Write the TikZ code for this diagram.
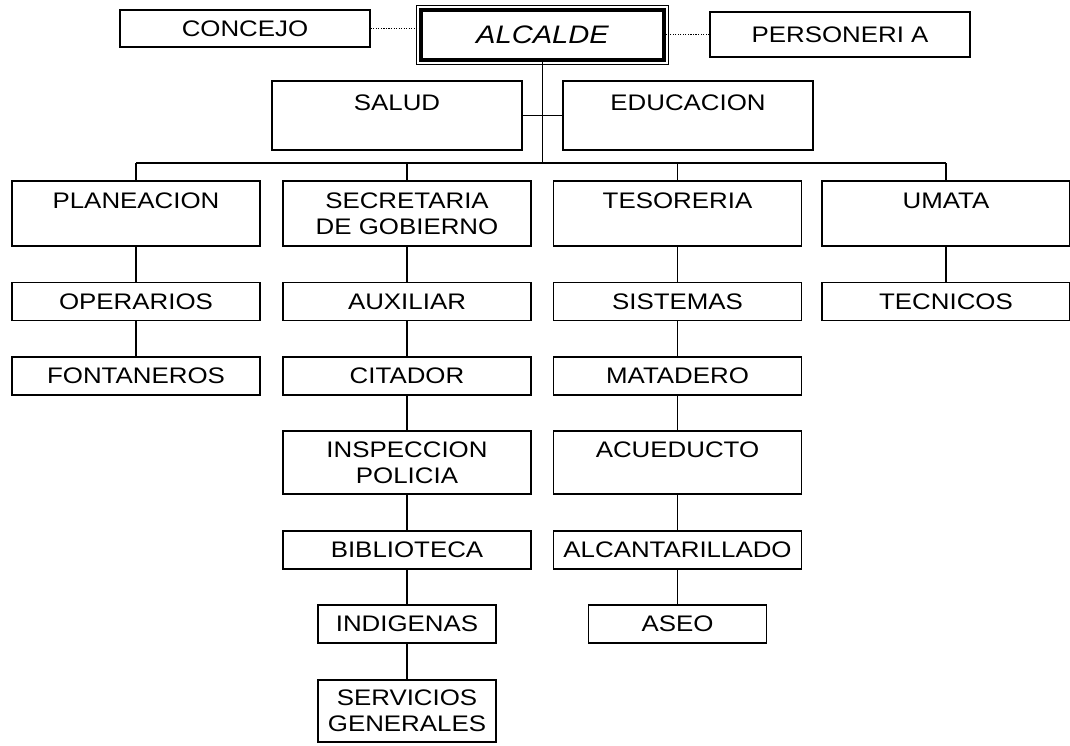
\documentclass[tikz,border=0pt]{standalone}
\usepackage{fontspec}
\setmainfont[FakeStretch=1.15]{Liberation Sans}

\begin{document}
\begin{tikzpicture}[x=0.025cm, y=-0.025cm,
    every node/.style={font=\fontsize{16}{18.5}\selectfont, align=center, inner sep=1pt},
    unit/.style={draw, line width=1pt, minimum width=6.2cm, minimum height=0.95cm},
    tall/.style={unit, minimum height=1.625cm},
    narrow/.style={unit, minimum width=4.45cm},
    link/.style={line width=0.8pt}]

    \useasboundingbox (0,0) rectangle (1070,745);

    % Top row: the mayor with the council and the personero
    \node[draw, line width=2.2pt, minimum width=6.075cm, minimum height=1.25cm,
          font=\fontsize{18}{21}\selectfont\itshape] (alc) at (542.5, 35) {ALCALDE};
    \draw[line width=0.7pt] ([shift={(-3,-3)}]alc.north west) rectangle ([shift={(3,3)}]alc.south east);
    \node[unit, minimum width=6.25cm, minimum height=0.925cm] (conc) at (245, 28.5) {CONCEJO};
    \node[unit, minimum width=6.5cm, minimum height=1.125cm] (pers) at (840, 34.5) {PERSONERI A};

    \draw[link, densely dotted] (conc.east) -- (conc.east -| alc.west);
    \draw[link, densely dotted] (pers.west) -- (pers.west -| alc.east);

    % Advisers hanging from the trunk
    \node[unit, minimum width=6.25cm, minimum height=1.725cm] (salud) at (397, 115.5) {SALUD\\~};
    \node[unit, minimum width=6.25cm, minimum height=1.725cm] (edu) at (688, 115.5) {EDUCACION\\~};

    % Heads of the four branches
    \node[tall] (plan)  at (136, 213.5)   {PLANEACION\\~};
    \node[tall] (sec)   at (407, 213.5)   {SECRETARIA\\DE GOBIERNO};
    \node[tall] (tes)   at (677.5, 213.5) {TESORERIA\\~};
    \node[tall] (umata) at (946, 213.5)   {UMATA\\~};

    % Second row
    \node[unit] (oper) at (136, 301.5)   {OPERARIOS};
    \node[unit] (aux)  at (407, 301.5)   {AUXILIAR};
    \node[unit] (sist) at (677.5, 301.5) {SISTEMAS};
    \node[unit] (tec)  at (946, 301.5)   {TECNICOS};

    % Third row
    \node[unit] (font) at (136, 376)   {FONTANEROS};
    \node[unit] (cit)  at (407, 376)   {CITADOR};
    \node[unit] (mat)  at (677.5, 376) {MATADERO};

    % Lower rows, only gobierno and tesoreria go on
    \node[tall, minimum height=1.575cm] (insp) at (407, 462.5)   {INSPECCION\\POLICIA};
    \node[tall, minimum height=1.575cm] (acu)  at (677.5, 462.5) {ACUEDUCTO\\~};
    \node[unit] (bib)   at (407, 550)   {BIBLIOTECA};
    \node[unit] (alcan) at (677.5, 550) {ALCANTARILLADO};
    \node[narrow] (indig) at (407, 624)   {INDIGENAS};
    \node[narrow] (aseo)  at (677.5, 624) {ASEO};
    \node[narrow, minimum height=1.55cm] (serv) at (407, 711) {SERVICIOS\\GENERALES};

    % Trunk and bus
    \coordinate (bus) at (alc.south |- 0, 163);
    \draw[link] (alc.south) -- (bus);
    \draw[link] (salud.east) -- (edu.west);
    \draw[link] (plan.north |- bus) -- (umata.north |- bus);
    \foreach \n in {plan, sec, tes, umata}
        \draw[link] (\n.north |- bus) -- (\n.north);

    % Vertical chains under each head
    \foreach \a/\b in {plan/oper, oper/font, sec/aux, aux/cit, cit/insp, insp/bib,
                       bib/indig, indig/serv, tes/sist, sist/mat, mat/acu,
                       acu/alcan, alcan/aseo, umata/tec}
        \draw[link] (\a.south) -- (\b.north);

\end{tikzpicture}
\end{document}
